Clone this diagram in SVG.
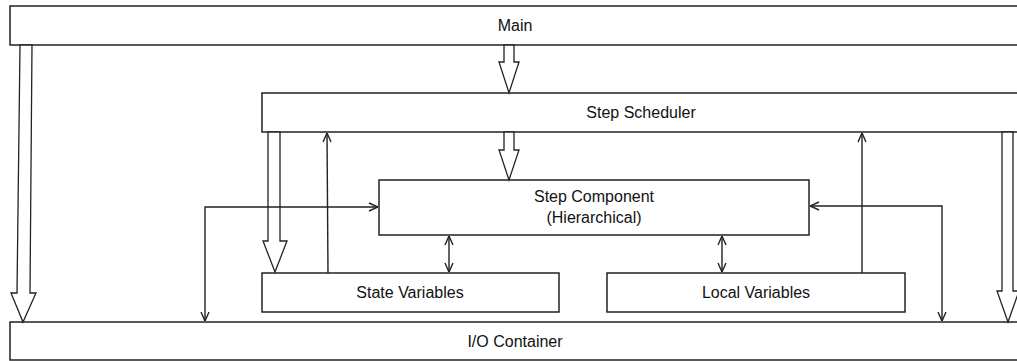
<svg xmlns="http://www.w3.org/2000/svg" width="1017" height="361" viewBox="0 0 1017 361">
<style>
.box{fill:#fff;stroke:#222;stroke-width:1.5}
.t{font-family:"Liberation Sans",Arial,sans-serif;font-size:16px;fill:#111;text-anchor:middle}
.big{fill:#fff;stroke:#222;stroke-width:1.3;stroke-linejoin:miter}
.ln{fill:none;stroke:#222;stroke-width:1.4}
</style>
<defs>
<marker id="v" viewBox="0 0 10 10" refX="10" refY="5" markerWidth="10" markerHeight="10" markerUnits="userSpaceOnUse" orient="auto-start-reverse">
<path d="M1,1 L10,5 L1,9" fill="none" stroke="#222" stroke-width="1.4"/>
</marker>
</defs>
<rect width="1017" height="361" fill="#fff"/>
<g id="main"><rect class="box" x="10" y="6" width="1020" height="39"/><text class="t" x="515" y="31">Main</text></g>
<g id="scheduler"><rect class="box" x="262" y="93" width="770" height="39"/><text class="t" x="641" y="118">Step Scheduler</text></g>
<g id="component"><rect class="box" x="379" y="180" width="430" height="55"/><text class="t" x="594" y="202">Step Component</text><text class="t" x="594" y="223">(Hierarchical)</text></g>
<g id="state"><rect class="box" x="262" y="273" width="297" height="39"/><text class="t" x="410" y="298">State Variables</text></g>
<g id="local"><rect class="box" x="607" y="273" width="298" height="39"/><text class="t" x="756" y="298">Local Variables</text></g>
<g id="io"><rect class="box" x="10" y="322" width="1020" height="38"/><text class="t" x="515" y="347">I/O Container</text></g>
<g id="connectors">
<polygon class="big" points="20,45 32,45 30,293 36,293 23,322 11,293 17,293"/>
<polygon class="big" points="504,45 514,45 514,62 519,62 509,93 499,62 504,62"/>
<polygon class="big" points="504,132 514,132 514,150 519,150 509,180 499,150 504,150"/>
<polygon class="big" points="268,132 280,132 280,241 287,241 275,272 263,241 268,241"/>
<polygon class="big" points="1002,132 1013,132 1013,291 1019,291 1008,322 997,291 1002,291"/>
<line class="ln" x1="328" y1="273" x2="327" y2="133" marker-end="url(#v)"/>
<line class="ln" x1="862" y1="273" x2="862" y2="133" marker-end="url(#v)"/>
<path class="ln" d="M205,321 L205,207 L378,207" marker-start="url(#v)" marker-end="url(#v)"/>
<path class="ln" d="M942,321 L942,206 L810,206" marker-start="url(#v)" marker-end="url(#v)"/>
<line class="ln" x1="449" y1="236" x2="449" y2="272" marker-start="url(#v)" marker-end="url(#v)"/>
<line class="ln" x1="722" y1="236" x2="722" y2="272" marker-start="url(#v)" marker-end="url(#v)"/>
</g>
</svg>
